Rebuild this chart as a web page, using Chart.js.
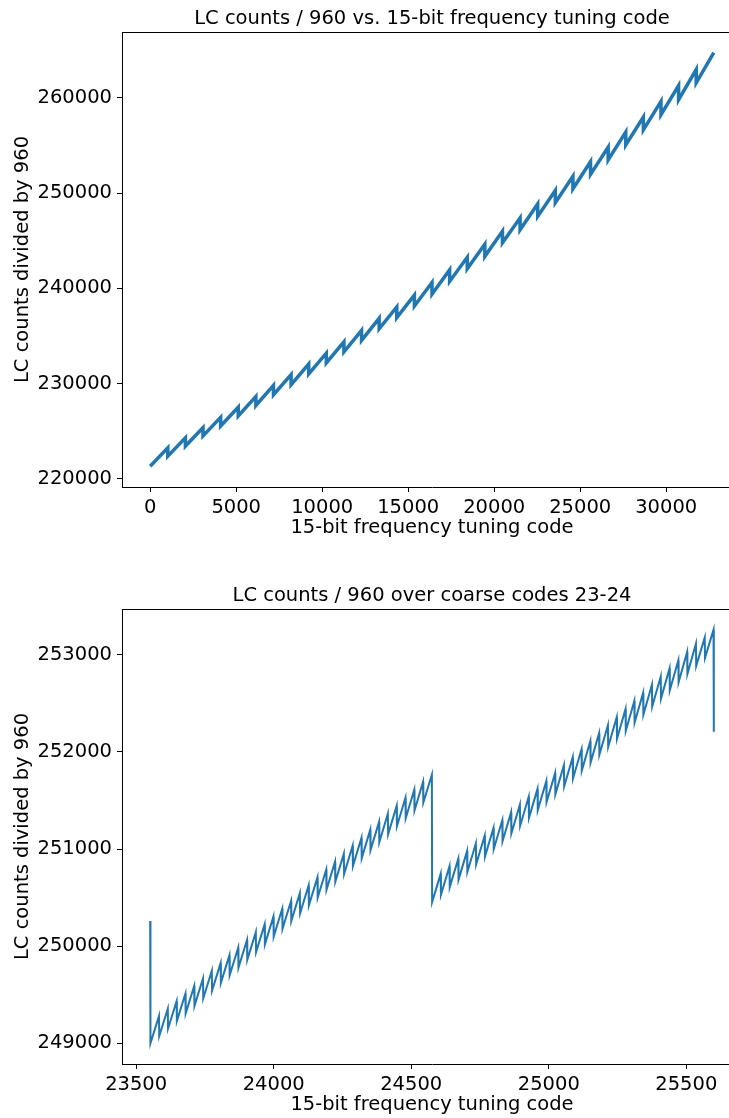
<!DOCTYPE html>
<html>
<head>
<meta charset="utf-8">
<script src="https://cdn.jsdelivr.net/npm/chart.js@4.4.0/dist/chart.umd.min.js"></script>
<style>
  html, body { margin: 0; padding: 0; background: #fff; width: 729px; height: 1118px; overflow: hidden; }
  canvas { position: absolute; left: 0; }
  #fullChart { top: 0; }
  #zoomChart { top: 577px; }
</style>
</head>
<body>
<canvas id="fullChart" width="760" height="560"></canvas>
<canvas id="zoomChart" width="760" height="560"></canvas>
<script>
// top panel: one entry per coarse code (0..31), value at its first and last fine code
const segStart = [221300, 222370, 223430, 224490, 225540, 226600, 227690, 228820, 229880, 231000,
                  232160, 233320, 234530, 235750, 236920, 238150, 239390, 240720, 242060, 243360,
                  244780, 246150, 247560, 248990, 250454, 251970, 253480, 255060, 256650, 258240,
                  259820, 261590];
const segEnd = [223250, 224300, 225360, 226450, 227510, 228640, 229800, 230930, 232050, 233180,
                234380, 235580, 236850, 238050, 239280, 240620, 241930, 243260, 244630, 246000,
                247380, 248860, 250276, 251765, 253300, 254820, 256410, 257990, 259640, 261300,
                262990, 264757];
const fullXTicks = [0, 5000, 10000, 15000, 20000, 25000, 30000];
const fullYTicks = [220000, 230000, 240000, 250000, 260000];

// bottom panel: coarse codes 23 and 24, trough and peak of each 32-code fine sweep
const c23Troughs = [249000, 249075, 249152, 249230, 249308, 249386, 249464, 249543, 249622, 249701,
                    249780, 249859, 249939, 250019, 250099, 250179, 250259, 250339, 250420, 250501,
                    250582, 250663, 250744, 250825, 250907, 250989, 251071, 251153, 251235, 251317,
                    251398, 251479];
const c23Peaks = [249280, 249356, 249433, 249511, 249590, 249668, 249747, 249826, 249905, 249985,
                  250064, 250144, 250224, 250304, 250385, 250465, 250546, 250626, 250708, 250789,
                  250870, 250952, 251034, 251115, 251198, 251280, 251363, 251445, 251528, 251610,
                  251692, 251765];
const c24Troughs = [250454, 250530, 250608, 250686, 250764, 250843, 250922, 251001, 251081, 251161,
                    251241, 251321, 251402, 251483, 251564, 251645, 251726, 251808, 251890, 251972,
                    252054, 252136, 252218, 252301, 252384, 252467, 252550, 252634, 252718, 252802,
                    252886, 252970];
const c24Peaks = [250745, 250822, 250900, 250979, 251058, 251137, 251217, 251297, 251377, 251458,
                  251538, 251619, 251700, 251782, 251863, 251945, 252027, 252110, 252192, 252275,
                  252358, 252441, 252524, 252608, 252692, 252776, 252860, 252944, 253029, 253114,
                  253178, 253259];
const edgeCodes = [23551, 25600];
const edgeValues = [250260, 252207];
const zoomXTicks = [23500, 24000, 24500, 25000, 25500];
const zoomYTicks = [249000, 250000, 251000, 252000, 253000];

const FONT = "'DejaVu Sans', sans-serif";
const SIZE = 19.5;
const BLUE = "#1f77b4";

// top panel points
const fullPoints = [];
segStart.forEach((v, c) => {
  fullPoints.push({ x: c * 1024, y: v });
  fullPoints.push({ x: c * 1024 + 1023, y: segEnd[c] });
});

// bottom panel points
const zoomPoints = [{ x: edgeCodes[0], y: edgeValues[0] }];
[[23, c23Troughs, c23Peaks], [24, c24Troughs, c24Peaks]].forEach(([coarse, lo, hi]) => {
  lo.forEach((v, k) => {
    zoomPoints.push({ x: coarse * 1024 + 32 * k, y: v });
    zoomPoints.push({ x: coarse * 1024 + 32 * k + 31, y: hi[k] });
  });
});
zoomPoints.push({ x: edgeCodes[1], y: edgeValues[1] });

// matplotlib-style 5% margins
function limits(vals) {
  const lo = Math.min(...vals), hi = Math.max(...vals);
  const m = (hi - lo) * 0.05;
  return [lo - m, hi + m];
}

const frame = {
  id: "frame",
  afterDraw(chart) {
    const { ctx, chartArea: a } = chart;
    ctx.save();
    ctx.strokeStyle = "#000";
    ctx.lineWidth = 1;
    ctx.beginPath();
    ctx.moveTo(a.left, a.top + 0.5);
    ctx.lineTo(a.right, a.top + 0.5);
    ctx.stroke();
    ctx.restore();
  }
};

function axis(label, ticks, lim, isX) {
  return {
    type: "linear",
    position: isX ? "bottom" : "left",
    min: lim[0],
    max: lim[1],
    afterBuildTicks: s => { s.ticks = ticks.map(v => ({ value: v })); },
    afterFit: s => { if (isX) s.height = 73; else s.width = 122; },
    ticks: {
      color: "#000",
      font: { family: FONT, size: SIZE },
      padding: isX ? 4 : 5,
      maxRotation: 0,
      autoSkip: false,
      callback: v => String(v)
    },
    grid: { drawOnChartArea: false, drawTicks: true, tickLength: 5, tickColor: "#000", tickWidth: 1 },
    border: { display: true, color: "#000", width: 1 },
    title: {
      display: true,
      text: label,
      color: "#000",
      font: { family: FONT, size: SIZE },
      padding: isX ? { top: 0, bottom: 20 } : { top: 11, bottom: 0 }
    }
  };
}

function makeChart(id, title, points, width, xTicks, yTicks) {
  new Chart(document.getElementById(id), {
    type: "line",
    data: {
      datasets: [{
        data: points,
        borderColor: BLUE,
        borderWidth: width,
        pointRadius: 0,
        tension: 0,
        fill: false
      }]
    },
    options: {
      responsive: false,
      animation: false,
      layout: { padding: { left: 0, top: 0, right: 18, bottom: 0 } },
      plugins: {
        legend: { display: false },
        tooltip: { enabled: false },
        title: {
          display: true,
          text: title,
          fullSize: false,
          color: "#000",
          font: { family: FONT, size: SIZE, weight: "normal" },
          padding: { top: 7.5, bottom: 1.1 }
        }
      },
      scales: {
        x: axis("15-bit frequency tuning code", xTicks, limits(points.map(p => p.x)), true),
        y: axis("LC counts divided by 960", yTicks, limits(points.map(p => p.y)), false)
      }
    },
    plugins: [frame]
  });
}

makeChart("fullChart", "LC counts / 960 vs. 15-bit frequency tuning code", fullPoints, 3.5, fullXTicks, fullYTicks);
makeChart("zoomChart", "LC counts / 960 over coarse codes 23-24", zoomPoints, 2, zoomXTicks, zoomYTicks);
</script>
</body>
</html>
